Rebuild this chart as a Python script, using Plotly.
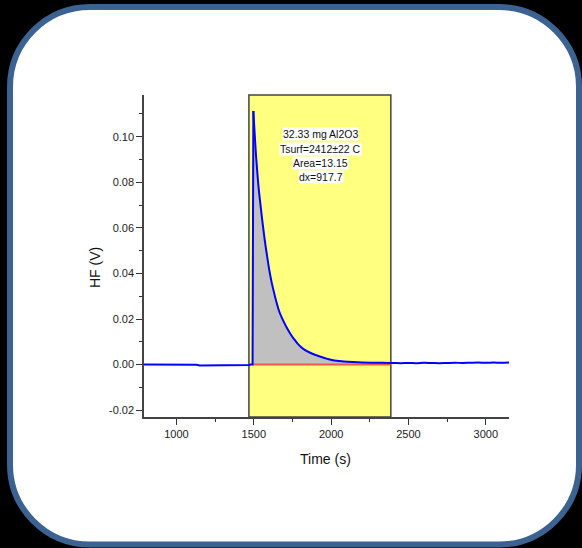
import plotly.graph_objects as go

# ---------------- data ----------------
time_s = [790, 850, 900, 950, 1000, 1050, 1100, 1130, 1150, 1200, 1250, 1300, 1350,
          1400, 1450, 1470, 1480, 1492, 1497, 1505, 1514, 1523, 1532, 1545, 1557,
          1570, 1585, 1600, 1614, 1630, 1645, 1665, 1687, 1710, 1732, 1760, 1786,
          1820, 1861, 1900, 1937, 1975, 2012, 2080, 2141, 2200, 2300, 2386, 2400,
          2450, 2500, 2550, 2600, 2650, 2700, 2750, 2800, 2850, 2900, 2950, 3000,
          3050, 3100, 3150]
hf_v = [0.0000, 0.0000, 0.0001, -0.0001, 0.0001, 0.0000, 0.0000, -0.0001, -0.0004,
        -0.0004, -0.0005, -0.0004, -0.0004, -0.0004, -0.0004, -0.0002, 0.0000,
        0.0000, 0.1113, 0.1020, 0.0920, 0.0840, 0.0770, 0.0690, 0.0620, 0.0550,
        0.0480, 0.0415, 0.0365, 0.0318, 0.0278, 0.0232, 0.0197, 0.0166, 0.0140,
        0.0112, 0.0090, 0.0069, 0.0053, 0.0042, 0.0033, 0.0025, 0.0019, 0.0014,
        0.0011, 0.0009, 0.0008, 0.0007, 0.0007, 0.0006, 0.0007, 0.0006, 0.0008,
        0.0007, 0.0006, 0.0007, 0.0008, 0.0007, 0.0008, 0.0009, 0.0008, 0.0009,
        0.0008, 0.0009]

peak_start = 1468.3
peak_dx = 917.7
peak_end = peak_start + peak_dx
peak_top_t = 1497
baseline_t = [1495, peak_end]
baseline_v = [0.0, 0.0]

info_lines = ["32.33 mg Al2O3", "Tsurf=2412±22 C", "Area=13.15", "dx=917.7"]
x_ticks = [1000, 1500, 2000, 2500, 3000]
y_ticks = [-0.02, 0.00, 0.02, 0.04, 0.06, 0.08, 0.10]

# ---------------- layout geometry ----------------
W, H = 582, 548
L, R, T, B = 144, 509, 95, 417
pw, ph = R - L, B - T

def px(x):
    return (x - L) / pw

def py(y):
    return (B - y) / ph

FONT = "Liberation Sans, Arial, sans-serif"

fig = go.Figure()

# gray filled area under the peak
fill_t = [t for t in time_s if 1492 <= t <= peak_end]
fill_v = [v for t, v in zip(time_s, hf_v) if 1492 <= t <= peak_end]
fig.add_trace(go.Scatter(x=fill_t, y=fill_v, mode="lines", fill="tozeroy",
                         fillcolor="#c0c0c0", line=dict(width=0, color="#c0c0c0"),
                         hoverinfo="skip", showlegend=False))
# red baseline
fig.add_trace(go.Scatter(x=baseline_t, y=baseline_v, mode="lines",
                         line=dict(color="#f05a46", width=2), showlegend=False))
# blue signal: rise (straight) and decay (smooth)
rise_t = [t for t in time_s if t <= peak_top_t]
rise_v = [v for t, v in zip(time_s, hf_v) if t <= peak_top_t]
decay_t = [t for t in time_s if t >= peak_top_t]
decay_v = [v for t, v in zip(time_s, hf_v) if t >= peak_top_t]
fig.add_trace(go.Scatter(x=rise_t, y=rise_v, mode="lines",
                         line=dict(color="#0000ff", width=2), showlegend=False))
fig.add_trace(go.Scatter(x=decay_t, y=decay_v, mode="lines",
                         line=dict(color="#0000ff", width=2, shape="spline", smoothing=1.0),
                         showlegend=False))

# rounded frame (pixel-based, converted to paper coords)
x0, y0, x1, y1, r = 10, 7, 579, 544.5, 80
k = 0.5523 * r
def P(x, y):
    return f"{px(x):.5f},{py(y):.5f}"
path = (
    f"M {P(x0 + r, y0)} L {P(x1 - r, y0)} "
    f"C {P(x1 - r + k, y0)} {P(x1, y0 + r - k)} {P(x1, y0 + r)} "
    f"L {P(x1, y1 - r)} "
    f"C {P(x1, y1 - r + k)} {P(x1 - r + k, y1)} {P(x1 - r, y1)} "
    f"L {P(x0 + r, y1)} "
    f"C {P(x0 + r - k, y1)} {P(x0, y1 - r + k)} {P(x0, y1 - r)} "
    f"L {P(x0, y0 + r)} "
    f"C {P(x0, y0 + r - k)} {P(x0 + r - k, y0)} {P(x0 + r, y0)} Z"
)
fig.add_shape(type="path", path=path, xref="paper", yref="paper",
              fillcolor="white", line=dict(color="#3b6290", width=6), layer="below")

# yellow integration window
fig.add_shape(type="rect", xref="x", yref="paper", x0=peak_start, x1=peak_end,
              y0=0, y1=1, fillcolor="#ffff80", line=dict(color="#444444", width=1.5),
              layer="below")

# info text lines, each with its own white background
line_y = [134.3, 148.5, 162.7, 176.9]
for txt, yy in zip(info_lines, line_y):
    fig.add_annotation(text=txt, x=px(320.7), y=py(yy), xref="paper", yref="paper",
                       showarrow=False, xanchor="center", yanchor="middle",
                       font=dict(family=FONT, size=10.5, color="#111111"),
                       bgcolor="white", borderpad=0)

# axis titles
fig.add_annotation(text="HF (V)", x=px(94.5), y=py(267.5), xref="paper", yref="paper",
                   showarrow=False, textangle=-90, xanchor="center", yanchor="middle",
                   font=dict(family=FONT, size=14, color="#111111"))
fig.add_annotation(text="Time (s)", x=px(325.8), y=py(459), xref="paper", yref="paper",
                   showarrow=False, xanchor="center", yanchor="middle",
                   font=dict(family=FONT, size=14, color="#111111"))

axis_common = dict(showgrid=False, zeroline=False, showline=True, linecolor="#444444",
                   linewidth=1.5, ticks="outside", ticklen=6, tickwidth=1,
                   tickcolor="#333333", tickfont=dict(family=FONT, size=11, color="#222222"))

fig.update_xaxes(range=[790, 3150], tickvals=x_ticks, ticktext=[str(v) for v in x_ticks],
                 minor=dict(dtick=250, tick0=0, ticks="outside", ticklen=3,
                            tickcolor="#333333"),
                 **axis_common)
fig.update_yaxes(range=[-0.023, 0.1183], tickvals=y_ticks,
                 ticktext=[f"{v:.2f}" for v in y_ticks],
                 minor=dict(dtick=0.01, tick0=0, ticks="outside", ticklen=3,
                            tickcolor="#333333"),
                 **axis_common)

fig.update_layout(width=W, height=H, autosize=False,
                  margin=dict(l=L, r=W - R, t=T, b=H - B, pad=0),
                  paper_bgcolor="black", plot_bgcolor="rgba(0,0,0,0)",
                  showlegend=False)

fig.write_html("out.html")
